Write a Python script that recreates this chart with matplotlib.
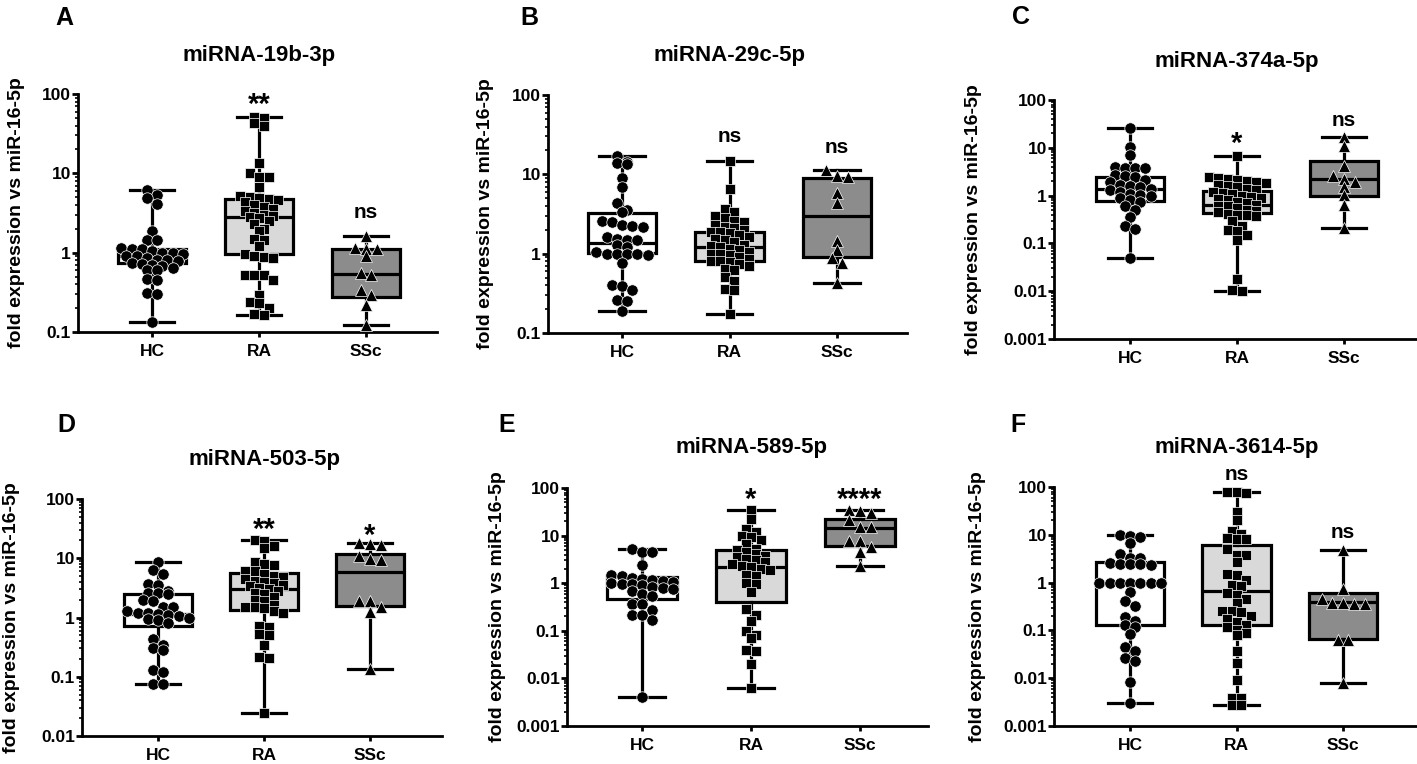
import matplotlib
matplotlib.use("Agg")
import matplotlib.pyplot as plt
import numpy as np
from matplotlib.ticker import FixedLocator, LogLocator, NullFormatter, FuncFormatter

plt.rcParams['font.family'] = ['Liberation Sans', 'DejaVu Sans']
plt.rcParams['font.weight'] = 'bold'

# ---------------- data ----------------
GROUPS = ["HC", "RA", "SSc"]
TITLES = ["miRNA-19b-3p", "miRNA-29c-5p", "miRNA-374a-5p",
          "miRNA-503-5p", "miRNA-589-5p", "miRNA-3614-5p"]
LETTERS = ["A", "B", "C", "D", "E", "F"]
SIGNIF = [["", "**", "ns"], ["", "ns", "ns"], ["", "*", "ns"],
          ["", "**", "*"], ["", "*", "****"], ["", "ns", "ns"]]
YMIN = [0.1, 0.1, 0.001, 0.01, 0.001, 0.001]
YMAX = [100, 100, 100, 100, 100, 100]

HC_A = [6.2, 5.3, 4.9, 4.1, 1.85, 1.45, 1.45, 1.15, 1.1, 1.1, 1.05, 1.0, 1.0, 0.95, 0.92,
        0.9, 0.85, 0.82, 0.8, 0.78, 0.75, 0.72, 0.7, 0.68, 0.65, 0.6, 0.6, 0.46, 0.45, 0.31,
        0.3, 0.135]
RA_A = [52, 50, 43, 40, 13.5, 10, 9, 9, 6.7, 5.2, 5.0, 4.9, 4.8, 4.6, 4.3, 4.0, 3.8, 3.6,
        3.4, 3.2, 3.0, 2.9, 2.8, 2.7, 2.5, 2.3, 2.0, 1.9, 1.5, 1.45, 1.2, 0.95, 0.9, 0.88,
        0.85, 0.53, 0.52, 0.52, 0.45, 0.29, 0.24, 0.23, 0.2, 0.17, 0.166]
SSC_A = [1.6, 1.15, 1.12, 1.1, 0.9, 0.55, 0.52, 0.34, 0.29, 0.22, 0.124]
Q1_A = [0.75, 0.97, 0.28]
MED_A = [0.9, 2.8, 0.54]
Q3_A = [1.12, 4.7, 1.12]

HC_B = [17.2, 14.2, 13.8, 13.5, 8.9, 7.0, 4.3, 3.6, 3.4, 2.6, 2.5, 2.3, 2.25, 2.2, 1.6, 1.55,
        1.5, 1.5, 1.3, 1.2, 1.05, 1.0, 1.0, 1.0, 0.98, 0.95, 0.76, 0.4, 0.39, 0.35, 0.26,
        0.25, 0.19]
RA_B = [14.8, 6.5, 3.7, 3.4, 3.0, 2.8, 2.6, 2.5, 2.3, 2.2, 2.1, 2.0, 1.9, 1.85, 1.8, 1.7,
        1.6, 1.55, 1.5, 1.4, 1.3, 1.25, 1.2, 1.15, 1.1, 1.05, 1.0, 0.98, 0.95, 0.9, 0.85,
        0.82, 0.8, 0.78, 0.75, 0.7, 0.65, 0.62, 0.51, 0.45, 0.36, 0.35, 0.175]
SSC_B = [11.4, 9.5, 9.3, 5.8, 4.3, 1.45, 1.12, 0.88, 0.76, 0.43]
Q1_B = [1.02, 0.8, 0.9]
MED_B = [1.35, 1.2, 2.95]
Q3_B = [3.3, 1.86, 9.1]

HC_C = [26.4, 10.6, 7.1, 3.9, 3.8, 3.8, 3.7, 2.7, 2.6, 2.4, 2.1, 1.9, 1.7, 1.6, 1.5, 1.4,
        1.3, 1.2, 1.1, 1.05, 1.0, 0.9, 0.8, 0.75, 0.6, 0.5, 0.36, 0.23, 0.2, 0.049]
RA_C = [6.8, 2.4, 2.3, 2.2, 2.1, 2.0, 1.9, 1.8, 1.7, 1.6, 1.5, 1.4, 1.3, 1.2, 1.15, 1.1,
        1.0, 0.95, 0.9, 0.85, 0.8, 0.75, 0.7, 0.65, 0.62, 0.6, 0.55, 0.5, 0.48, 0.45, 0.42,
        0.4, 0.4, 0.38, 0.29, 0.23, 0.19, 0.18, 0.15, 0.12, 0.018, 0.0107, 0.01]
SSC_C = [17.1, 10.9, 4.2, 2.6, 2.2, 1.95, 1.5, 1.02, 0.64, 0.21]
Q1_C = [0.78, 0.43, 1.0]
MED_C = [1.4, 0.63, 2.2]
Q3_C = [2.5, 1.26, 5.4]

HC_D = [8.6, 6.4, 5.5, 3.7, 3.5, 2.85, 2.6, 2.6, 2.5, 1.95, 1.9, 1.5, 1.5, 1.3, 1.2, 1.2,
        1.15, 1.1, 1.05, 1.0, 0.95, 0.9, 0.8, 0.44, 0.35, 0.31, 0.28, 0.13, 0.12, 0.076,
        0.075]
RA_D = [20, 19.5, 16, 15, 8.5, 8, 7.8, 6, 6, 5.5, 5, 4.8, 4.5, 4.2, 4.0, 3.8, 3.6, 3.4, 3.2,
        3.0, 2.8, 2.6, 2.5, 2.2, 1.95, 1.9, 1.6, 1.5, 1.5, 1.45, 1.3, 1.2, 0.72, 0.7, 0.52,
        0.5, 0.34, 0.215, 0.21, 0.0245]
SSC_D = [17.9, 17.5, 17.0, 11.1, 9.6, 9.5, 1.9, 1.88, 1.5, 1.23, 0.136]
Q1_D = [0.73, 1.35, 1.58]
MED_D = [1.15, 3.0, 5.96]
Q3_D = [2.5, 5.6, 11.8]

HC_E = [5.3, 4.5, 4.5, 2.37, 1.46, 1.45, 1.3, 1.2, 1.15, 1.1, 1.05, 1.0, 0.98, 0.95, 0.9,
        0.85, 0.8, 0.75, 0.7, 0.6, 0.55, 0.37, 0.36, 0.27, 0.22, 0.22, 0.166, 0.0041]
RA_E = [34, 22.7, 14, 12, 9.8, 9.5, 8, 6.8, 5.2, 5.0, 4.6, 4.2, 3.8, 3.5, 3.2, 3.0, 2.8, 2.5,
        2.3, 2.2, 2.0, 1.9, 1.5, 1.4, 1.0, 0.98, 0.65, 0.29, 0.22, 0.16, 0.1, 0.08, 0.07,
        0.04, 0.038, 0.02, 0.0064]
SSC_E = [35, 33, 30, 21, 15, 15, 7.8, 7.6, 5.8, 4.5, 2.26]
Q1_E = [0.47, 0.4, 6.0]
MED_E = [0.95, 2.2, 14.4]
Q3_E = [1.35, 4.9, 22]

HC_F = [9.7, 9.5, 8.9, 6.7, 3.9, 3.3, 3.2, 2.6, 2.5, 2.5, 2.4, 2.3, 1.0, 1.0, 1.0, 1.0, 1.0,
        1.0, 1.0, 0.63, 0.42, 0.33, 0.19, 0.16, 0.13, 0.12, 0.083, 0.044, 0.037, 0.027,
        0.023, 0.0083, 0.0031]
RA_F = [78, 78, 75, 30, 20, 12.3, 10.4, 8.5, 8.2, 8.0, 5.0, 3.8, 3.7, 2.7, 1.5, 1.45, 1.15,
        0.9, 0.85, 0.6, 0.55, 0.45, 0.38, 0.26, 0.25, 0.24, 0.2, 0.17, 0.15, 0.13, 0.12, 0.1,
        0.09, 0.08, 0.037, 0.021, 0.009, 0.0039, 0.0038, 0.0027, 0.0027]
SSC_F = [4.7, 0.74, 0.45, 0.37, 0.36, 0.37, 0.35, 0.063, 0.062, 0.0078]
Q1_F = [0.13, 0.13, 0.065]
MED_F = [0.95, 0.66, 0.4]
Q3_F = [2.66, 6.0, 0.6]

DATA = [(HC_A, RA_A, SSC_A), (HC_B, RA_B, SSC_B), (HC_C, RA_C, SSC_C),
        (HC_D, RA_D, SSC_D), (HC_E, RA_E, SSC_E), (HC_F, RA_F, SSC_F)]
BOXQ = [(Q1_A, MED_A, Q3_A), (Q1_B, MED_B, Q3_B), (Q1_C, MED_C, Q3_C),
        (Q1_D, MED_D, Q3_D), (Q1_E, MED_E, Q3_E), (Q1_F, MED_F, Q3_F)]

# ---------------- layout / style ----------------
W, H = 1417, 764
LAYOUT = [
    dict(box=(78, 94, 437, 332), ticks=(152, 366), title_y=55, letter=(55, 25), ylab_x=17),
    dict(box=(548, 95, 907, 333), ticks=(622, 837), title_y=55, letter=(520, 25), ylab_x=485),
    dict(box=(1054, 100, 1417, 339), ticks=(1130, 1344), title_y=62, letter=(1012, 24), ylab_x=973),
    dict(box=(82, 499, 442, 736), ticks=(158, 370), title_y=459, letter=(57, 432), ylab_x=12),
    dict(box=(567, 488, 928, 726), ticks=(642, 860), title_y=447, letter=(498, 432), ylab_x=498),
    dict(box=(1054, 487, 1417, 726), ticks=(1130, 1343), title_y=447, letter=(1010, 432), ylab_x=978),
]
# baseline positions (data units) of the significance marks
SIG_Y = [[None, 57, 2.7], [None, 25.9, 18.4], [None, 8.2, 28.6],
         [None, 21.7, 17.5], [None, 38, 38], [None, 138, 8.6]]

MARKERS = ["o", "s", "^"]
MSIZE = [8.2, 7.6, 8.6]
BOXFACE = ["white", "#d9d9d9", "#8c8c8c"]
LW = 2.3


def row_offsets(ypix, row_h, spacing):
    """GraphPad-like scatter: points falling in the same row are laid side by side."""
    ypix = np.asarray(ypix)
    out = np.zeros(len(ypix))
    order = np.argsort(-ypix)
    rows = []
    cur = []
    start = None
    for i in order:
        if start is None or start - ypix[i] <= row_h:
            if start is None:
                start = ypix[i]
            cur.append(i)
        else:
            rows.append(cur)
            cur = [i]
            start = ypix[i]
    if cur:
        rows.append(cur)
    for row in rows:
        n = len(row)
        for k, i in enumerate(row):
            out[i] = (k - (n - 1) / 2.0) * spacing
    return out


fig = plt.figure(figsize=(W / 100, H / 100), dpi=100)

for p in range(6):
    L = LAYOUT[p]
    l, t, r, b = L["box"]
    ax = fig.add_axes([l / W, 1 - b / H, (r - l) / W, (b - t) / H])
    t0, t2 = L["ticks"]
    sp = (t2 - t0) / 2.0
    ax.set_xlim((l - t0) / sp, (r - t0) / sp)
    ax.set_yscale("log")
    ax.set_ylim(YMIN[p], YMAX[p])

    groups = DATA[p]
    q1s, meds, q3s = BOXQ[p]
    stats = []
    for g in range(3):
        vals = groups[g]
        stats.append(dict(med=meds[g], q1=q1s[g], q3=q3s[g],
                          whislo=min(vals), whishi=max(vals), fliers=[]))
    bp = ax.bxp(stats, positions=[0, 1, 2], widths=0.64, capwidths=0.42,
                patch_artist=True, showfliers=False,
                boxprops=dict(edgecolor="black", linewidth=LW),
                medianprops=dict(color="black", linewidth=LW),
                whiskerprops=dict(color="black", linewidth=LW),
                capprops=dict(color="black", linewidth=LW))
    for g, patch in enumerate(bp["boxes"]):
        patch.set_facecolor(BOXFACE[g])
        patch.set_zorder(1.5)
    for key in ("whiskers", "caps", "medians"):
        for ln in bp[key]:
            ln.set_zorder(2.5)

    # points laid out in rows (pixel space)
    x0 = ax.transData.transform((0, 1))[0]
    x1 = ax.transData.transform((1, 1))[0]
    pxu = (x1 - x0)
    for g in range(3):
        vals = np.array(groups[g], dtype=float)
        ypix = [ax.transData.transform((0, v))[1] for v in vals]
        diam = MSIZE[g] * 100 / 72
        offs = row_offsets(ypix, diam * 0.6, diam * 0.9)
        xs = g + offs / pxu
        ax.plot(xs, vals, linestyle="none", marker=MARKERS[g], ms=MSIZE[g],
                mfc="black", mec="white", mew=0.5, zorder=3, clip_on=False)

    # significance labels
    for g in range(3):
        s = SIGNIF[p][g]
        if s:
            fs = 21 if s.startswith("*") else 15
            ax.text(g, SIG_Y[p][g], s, ha="center", va="baseline",
                    fontsize=fs, fontweight="bold", clip_on=False)

    # axes styling
    for s in ("top", "right"):
        ax.spines[s].set_visible(False)
    for s in ("left", "bottom"):
        ax.spines[s].set_linewidth(2.0)
    ax.set_xticks([0, 1, 2])
    ax.set_xticklabels(GROUPS)
    majors = [10.0 ** k for k in range(int(round(np.log10(YMIN[p]))), 3)]
    ax.yaxis.set_major_locator(FixedLocator(majors))
    ax.yaxis.set_major_formatter(FuncFormatter(lambda v, pos: "{:g}".format(v)))
    ax.yaxis.set_minor_locator(LogLocator(base=10, subs=np.arange(2, 10), numticks=20))
    ax.yaxis.set_minor_formatter(NullFormatter())
    ax.tick_params(axis="y", which="major", length=4, width=2.0, pad=1, labelsize=12.5)
    ax.tick_params(axis="y", which="minor", length=2.5, width=1.2)
    ax.tick_params(axis="x", which="major", length=3.5, width=2.0, pad=5, labelsize=12.5)
    for lab in ax.get_xticklabels() + ax.get_yticklabels():
        lab.set_fontweight("bold")
    ax.patch.set_alpha(0)

    # texts around the axes
    fig.text(L["ticks"][0] / W + sp / W, 1 - L["title_y"] / H, TITLES[p],
             ha="center", va="center", fontsize=16, fontweight="bold")
    fig.text(L["letter"][0] / W, 1 - L["letter"][1] / H, LETTERS[p],
             ha="left", va="baseline", fontsize=18, fontweight="bold")
    fig.text(L["ylab_x"] / W, 1 - ((t + b) / 2) / H, "fold expression vs miR-16-5p",
             rotation=90, ha="center", va="center", fontsize=14, fontweight="bold")

fig.savefig("out.png", dpi=100)
